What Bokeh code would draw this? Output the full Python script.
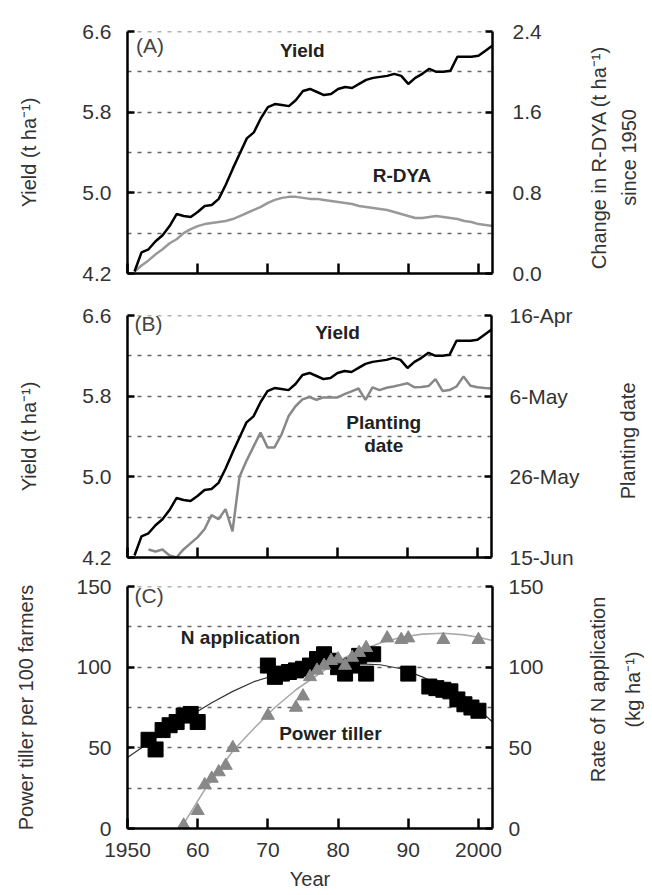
import math
from bokeh.plotting import figure
from bokeh.models import Range1d, LinearAxis, FixedTicker, Label, PrintfTickFormatter
from bokeh.layouts import column, row
from bokeh.core.properties import value
from bokeh.embed import file_html
from bokeh.resources import INLINE

# ---------------- data ----------------
years = list(range(1951, 2003))
yield_t = [4.22, 4.41, 4.44, 4.52, 4.58, 4.67, 4.79, 4.77, 4.76, 4.81,
           4.87, 4.88, 4.94, 5.08, 5.24, 5.39, 5.54, 5.60, 5.74, 5.85,
           5.88, 5.87, 5.86, 5.92, 6.01, 6.03, 6.00, 5.97, 5.98, 6.03,
           6.05, 6.04, 6.08, 6.12, 6.14, 6.15, 6.16, 6.18, 6.16, 6.08,
           6.14, 6.18, 6.23, 6.20, 6.20, 6.21, 6.35, 6.35, 6.35, 6.36,
           6.41, 6.46]
rdya_change = [0.02, 0.08, 0.13, 0.19, 0.24, 0.30, 0.34, 0.40, 0.44, 0.47,
               0.49, 0.50, 0.51, 0.52, 0.54, 0.57, 0.60, 0.63, 0.66, 0.70,
               0.73, 0.75, 0.76, 0.76, 0.75, 0.74, 0.74, 0.73, 0.72, 0.71,
               0.70, 0.69, 0.67, 0.66, 0.65, 0.64, 0.63, 0.61, 0.59, 0.57,
               0.55, 0.55, 0.56, 0.57, 0.56, 0.55, 0.54, 0.52, 0.51, 0.49,
               0.48, 0.47]

plant_years = list(range(1953, 2003))
plant_doy = [164, 164.5, 164, 165.5, 166, 164, 162.5, 161,
             159, 155.5, 156.5, 154, 159.5, 146, 142, 138.5, 135, 138.7,
             138.7, 135.5, 131, 128.5, 126.8, 126.2, 126.9, 126.3, 126.3, 126.3,
             125.5, 124.8, 124.1, 126.9, 123.8, 124.5, 123.9, 123.6, 123.2, 122.8,
             123.8, 123.7, 123.5, 121.8, 124.7, 124.5, 123.6, 121.1, 123.4, 123.8,
             124.0, 124.1]
date_ticks = [106, 126, 146, 166]
date_labels = ["16-Apr", "6-May", "26-May", "15-Jun"]

n_years = [1953, 1954, 1955, 1956, 1957, 1958, 1959, 1960,
           1970, 1971, 1972, 1973, 1974, 1975, 1976, 1977, 1978, 1979, 1980,
           1981, 1982, 1983, 1984, 1985, 1990,
           1993, 1994, 1995, 1996, 1997, 1998, 1999, 2000]
n_rate = [55, 49, 61, 64, 66, 70, 71, 66,
          101, 94, 96, 97, 98, 99, 101, 105, 108, 104, 100,
          96, 101, 107, 96, 108, 96,
          88, 87, 86, 85, 80, 77, 75, 73]
n_fit_x = [1950, 1953, 1956, 1959, 1962, 1965, 1968, 1971, 1974, 1977, 1980,
           1983, 1986, 1989, 1992, 1995, 1998, 2000, 2002]
n_fit_y = [44, 53, 62, 70, 78, 85, 91, 95, 98, 100.5, 101.5,
           102, 101.5, 99, 94, 88, 80, 74, 66]

pt_years = [1958, 1960, 1961, 1962, 1963, 1964, 1965, 1970, 1974, 1975,
            1976, 1977, 1978, 1979, 1980, 1981, 1982, 1983, 1984,
            1987, 1989, 1990, 1995, 2000]
pt_count = [2, 11, 27, 31, 35, 39, 50, 70, 75, 82,
            94, 98, 101, 104, 105, 101, 106, 109, 112,
            118, 117, 118, 117, 117]
pt_fit_x = [1957.6, 1959, 1961, 1963, 1965, 1968, 1971, 1974, 1977, 1980,
            1983, 1986, 1989, 1992, 1995, 1998, 2000, 2002]
pt_fit_y = [0, 10, 24, 36, 48, 62, 75, 86, 95, 104,
            110, 115, 118.5, 120.5, 121, 120, 118.5, 116.5]

x_ticks = [1950, 1960, 1970, 1980, 1990, 2000]
x_tick_labels = ["1950", "60", "70", "80", "90", "2000"]

FONT = "Liberation Sans"
TXT = "#333333"
FS = "21px"
AFS = "20px"
BFS = "19px"
MAIN_W = 582
SIDE_W = 62


def style_axis(ax, label_standoff=16):
    ax.axis_line_width = 2.5
    ax.axis_line_color = "black"
    ax.major_tick_line_width = 2.5
    ax.major_tick_line_color = "black"
    ax.major_tick_in = 7
    ax.major_tick_out = 0
    ax.minor_tick_line_color = None
    ax.major_label_text_font = FONT
    ax.major_label_text_font_size = FS
    ax.major_label_text_color = TXT
    ax.major_label_standoff = label_standoff
    ax.axis_label_text_font = FONT
    ax.axis_label_text_font_size = AFS
    ax.axis_label_text_font_style = "normal"
    ax.axis_label_text_color = TXT


def make_fig(height, top, bottom, yr, grid_ticks):
    p = figure(width=MAIN_W, height=height, x_range=Range1d(1950, 2002),
               y_range=Range1d(*yr), output_backend="svg", toolbar_location=None,
               min_border_left=127, min_border_right=MAIN_W - 492,
               min_border_top=top, min_border_bottom=bottom,
               outline_line_color=None)
    p.xgrid.visible = False
    p.ygrid.ticker = FixedTicker(ticks=grid_ticks)
    p.ygrid.grid_line_dash = "4 6"
    p.ygrid.grid_line_color = "#666666"
    p.ygrid.grid_line_width = 1.4
    xa = p.xaxis[0]
    style_axis(xa)
    xa.ticker = FixedTicker(ticks=x_ticks)
    xa.major_tick_in = 10
    return p


def side_label(height, top, lines, xs):
    """A narrow figure holding the right-hand axis title, read bottom-to-top."""
    s = figure(width=SIDE_W, height=height, x_range=Range1d(0, SIDE_W),
               y_range=Range1d(0, height), output_backend="svg", toolbar_location=None,
               min_border_left=0, min_border_right=0, min_border_top=0, min_border_bottom=0,
               outline_line_color=None, x_axis_type=None, y_axis_type=None)
    yc = height - (top + 121)
    s.text(x=xs, y=[yc] * len(xs), text=lines, angle=math.pi / 2,
           text_align="center", text_baseline="middle",
           text_font=value(FONT), text_font_size=AFS, text_color=TXT)
    return s


def lbl(p, x, y, text, bold=True, size=BFS, align="center", rng="default", color="#222222"):
    p.add_layout(Label(x=x, y=y, text=text, text_font=FONT,
                       text_font_size=size, text_font_style="bold" if bold else "normal",
                       text_align=align, text_baseline="middle", text_color=color,
                       y_range_name=rng))


# ---------------- Panel A ----------------
hA, tA = 292, 31
pA = make_fig(hA, tA, 19, (4.2, 6.6), [4.6, 5.0, 5.4, 5.8, 6.2, 6.598])
pA.xaxis[0].major_label_text_color = None
pA.xaxis[0].major_label_text_font_size = "8px"
pA.xaxis[0].major_label_standoff = 0
ya = pA.yaxis[0]
style_axis(ya)
ya.ticker = FixedTicker(ticks=[4.2, 5.0, 5.8, 6.6])
ya.formatter = PrintfTickFormatter(format="%.1f")
ya.axis_label = "Yield (t ha\u207b\u00b9)"
ya.axis_label_standoff = 39
pA.extra_y_ranges = {"r": Range1d(0, 2.4)}
ra = LinearAxis(y_range_name="r", ticker=FixedTicker(ticks=[0, 0.8, 1.6, 2.4]),
                formatter=PrintfTickFormatter(format="%.1f"))
style_axis(ra, 20)
pA.add_layout(ra, "right")
pA.line(years, rdya_change, y_range_name="r", line_color="#999999", line_width=2.5)
pA.line(years, yield_t, line_color="black", line_width=2.5)
lbl(pA, 1951.2, 6.46, "(A)", bold=False, size="21px", align="left", color="#444444")
lbl(pA, 1974.9, 6.41, "Yield")
lbl(pA, 1989.1, 0.97, "R-DYA", rng="r")
sA = side_label(hA, tA, ["Change in R-DYA (t ha\u207b\u00b9)", "since 1950"], [16, 46])

# ---------------- Panel B ----------------
hB, tB = 278, 23
pB = make_fig(hB, tB, 13, (4.2, 6.6), [4.6, 5.0, 5.4, 5.8, 6.2, 6.598])
pB.xaxis[0].major_label_text_color = None
pB.xaxis[0].major_label_text_font_size = "8px"
pB.xaxis[0].major_label_standoff = 0
yb = pB.yaxis[0]
style_axis(yb)
yb.ticker = FixedTicker(ticks=[4.2, 5.0, 5.8, 6.6])
yb.formatter = PrintfTickFormatter(format="%.1f")
yb.axis_label = "Yield (t ha\u207b\u00b9)"
yb.axis_label_standoff = 39
pB.extra_y_ranges = {"d": Range1d(start=166, end=106)}
rb = LinearAxis(y_range_name="d", ticker=FixedTicker(ticks=date_ticks))
rb.major_label_overrides = {t: s for t, s in zip(date_ticks, date_labels)}
style_axis(rb, 18)
pB.add_layout(rb, "right")
pB.line(plant_years, plant_doy, y_range_name="d", line_color="#888888", line_width=2.5)
pB.line(years, yield_t, line_color="black", line_width=2.5)
lbl(pB, 1951.0, 6.52, "(B)", bold=False, size="21px", align="left", color="#444444")
lbl(pB, 1980.0, 6.43, "Yield")
lbl(pB, 1986.6, 5.54, "Planting")
lbl(pB, 1986.6, 5.31, "date")
sB = side_label(hB, tB, ["Planting date"], [45])

# ---------------- Panel C ----------------
hC, tC = 322, 16
pC = make_fig(hC, tC, 64, (0, 150), [25, 50, 75, 100, 125, 149.85])
xc = pC.xaxis[0]
xc.major_label_overrides = {t: s for t, s in zip(x_ticks, x_tick_labels)}
xc.major_label_standoff = 14
xc.axis_label = "Year"
xc.axis_label_standoff = 8
yc = pC.yaxis[0]
style_axis(yc)
yc.ticker = FixedTicker(ticks=[0, 50, 100, 150])
yc.axis_label = "Power tiller per 100 farmers"
yc.axis_label_standoff = 36
pC.extra_y_ranges = {"n": Range1d(0, 150)}
rc = LinearAxis(y_range_name="n", ticker=FixedTicker(ticks=[0, 50, 100, 150]))
style_axis(rc, 16)
pC.add_layout(rc, "right")
pC.line(n_fit_x, n_fit_y, line_color="#333333", line_width=1.2)
pC.line(pt_fit_x, pt_fit_y, line_color="#aaaaaa", line_width=1.6)
pC.scatter(n_years, n_rate, marker="square", size=15, fill_color="black", line_color="black")
pC.scatter(pt_years, pt_count, marker="triangle", size=13, fill_color="#888888", line_color="#888888")
lbl(pC, 1951.0, 144.5, "(C)", bold=False, size="21px", align="left", color="#444444")
lbl(pC, 1966.1, 118.6, "N application")
lbl(pC, 1978.9, 59, "Power tiller")
sC = side_label(hC, tC, ["Rate of N application", "(kg ha\u207b\u00b9)"], [15, 50])

layout = column(row(pA, sA), row(pB, sB), row(pC, sC))
open("out.html", "w").write(file_html(layout, INLINE))
